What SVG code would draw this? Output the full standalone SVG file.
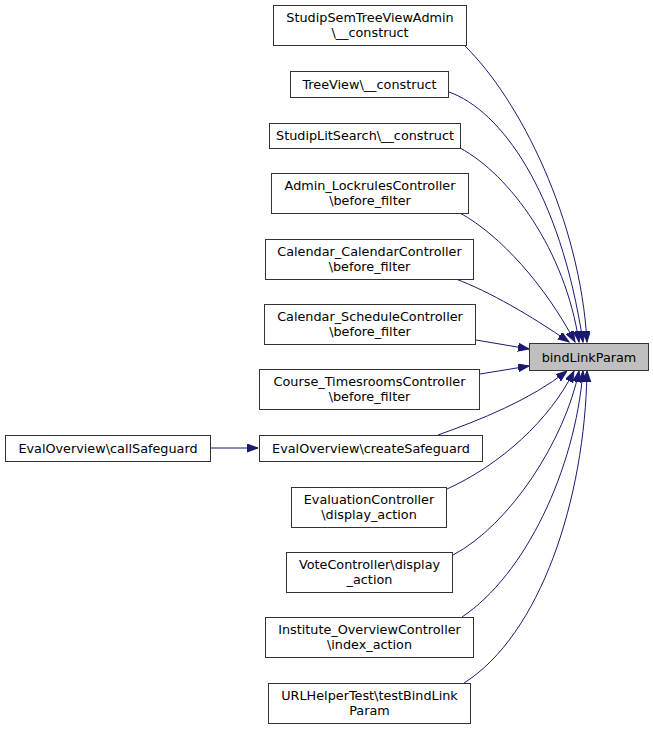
<svg xmlns="http://www.w3.org/2000/svg" width="653" height="729" viewBox="0 0 653 729">
<style>
.n rect{fill:#ffffff;stroke:#333333;stroke-width:1}
.n text{font-family:"DejaVu Sans",sans-serif;font-size:12.8px;fill:#000;text-anchor:middle}
#bindLinkParam rect{fill:#bfbfbf}
.e path{fill:none;stroke:#191970;stroke-width:1;marker-end:url(#ah)}
</style>
<defs>
<marker id="ah" markerUnits="userSpaceOnUse" markerWidth="12" markerHeight="9" refX="11" refY="4" orient="auto">
<path d="M0,0 L11,4 L0,8 z" fill="#191970" stroke="#191970" stroke-width="1"/>
</marker>
</defs>
<rect width="653" height="729" fill="#ffffff"/>
<g id="edges" class="e">
<path d="M465,46 C520,100 580,220 587,342"/>
<path d="M449,92 C500,110 560,190 583,342"/>
<path d="M460,148 C510,175 565,250 579,342"/>
<path d="M460,213 C500,235 545,285 575,342"/>
<path d="M456,279 C490,292 530,315 569,342"/>
<path d="M476,340 L529,349"/>
<path d="M480,374 L529,366"/>
<path d="M438,435 C480,420 530,400 567,371"/>
<path d="M447,489 C500,465 550,420 574,371"/>
<path d="M453,555 C510,525 565,440 579,371"/>
<path d="M462,617 C525,575 575,470 583,371"/>
<path d="M464,683 C540,635 585,500 587,371"/>
<path d="M211,448 L258,448"/>
</g>
<g id="bindLinkParam" class="n"><rect x="529.5" y="343.5" width="119" height="27"/><text x="589" y="362">bindLinkParam</text></g>
<g id="n1" class="n"><rect x="273.5" y="5.5" width="193" height="40"/><text x="370" y="22">StudipSemTreeViewAdmin</text><text x="370" y="37">\__construct</text></g>
<g id="n2" class="n"><rect x="290.5" y="71.5" width="158" height="26"/><text x="369.5" y="89">TreeView\__construct</text></g>
<g id="n3" class="n"><rect x="269.5" y="123.5" width="191" height="25"/><text x="365" y="140">StudipLitSearch\__construct</text></g>
<g id="n4" class="n"><rect x="271.5" y="173.5" width="197" height="40"/><text x="370" y="190">Admin_LockrulesController</text><text x="370" y="205">\before_filter</text></g>
<g id="n5" class="n"><rect x="265.5" y="239.5" width="208" height="40"/><text x="369.5" y="256">Calendar_CalendarController</text><text x="369.5" y="271">\before_filter</text></g>
<g id="n6" class="n"><rect x="264.5" y="304.5" width="211" height="40"/><text x="370" y="321">Calendar_ScheduleController</text><text x="370" y="336">\before_filter</text></g>
<g id="n7" class="n"><rect x="259.5" y="369.5" width="220" height="40"/><text x="369.5" y="386">Course_TimesroomsController</text><text x="369.5" y="401">\before_filter</text></g>
<g id="n8" class="n"><rect x="259.5" y="435.5" width="223" height="26"/><text x="371" y="453">EvalOverview\createSafeguard</text></g>
<g id="n9" class="n"><rect x="5.5" y="435.5" width="205" height="26"/><text x="108" y="453">EvalOverview\callSafeguard</text></g>
<g id="n10" class="n"><rect x="291.5" y="487.5" width="155" height="40"/><text x="369" y="504">EvaluationController</text><text x="369" y="519">\display_action</text></g>
<g id="n11" class="n"><rect x="286.5" y="552.5" width="166" height="40"/><text x="369.5" y="569">VoteController\display</text><text x="369.5" y="584">_action</text></g>
<g id="n12" class="n"><rect x="265.5" y="617.5" width="208" height="40"/><text x="369.5" y="634">Institute_OverviewController</text><text x="369.5" y="649">\index_action</text></g>
<g id="n13" class="n"><rect x="268.5" y="683.5" width="202" height="40"/><text x="369.5" y="700">URLHelperTest\testBindLink</text><text x="369.5" y="715">Param</text></g>
</svg>
